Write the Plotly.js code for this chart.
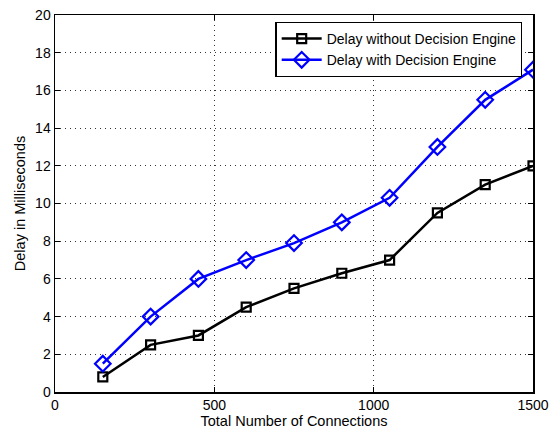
<!DOCTYPE html>
<html><head><meta charset="utf-8">
<script src="https://cdn.plot.ly/plotly-3.0.1.min.js"></script>
<style>html,body{margin:0;padding:0;background:#fff}#chart{width:551px;height:429px}</style>
</head><body><div id="chart"></div>
<script>
const connections = [150, 300, 450, 600, 750, 900, 1050, 1200, 1350, 1500];
const delayWithout = [0.8, 2.5, 3.0, 4.5, 5.5, 6.3, 7.0, 9.5, 11.0, 12.0];
const delayWith = [1.5, 4.0, 6.0, 7.0, 7.9, 9.0, 10.3, 13.0, 15.5, 17.1];
const xTicks = [0, 500, 1000, 1500];
const yTicks = [0, 2, 4, 6, 8, 10, 12, 14, 16, 18, 20];

const fam = 'Liberation Sans, Arial, sans-serif';
const traces = [
  {x: connections, y: delayWithout, name: 'Delay without Decision Engine', mode: 'lines+markers',
   line: {color: '#000000', width: 2.5},
   marker: {symbol: 'square-open', size: 9, color: '#000000', line: {width: 2.2, color: '#000000'}}},
  {x: connections, y: delayWith, name: 'Delay with Decision Engine', mode: 'lines+markers',
   line: {color: '#0000ff', width: 2.5},
   marker: {symbol: 'diamond-open', size: 12, color: '#0000ff', line: {width: 2.2, color: '#0000ff'}}}
];
const tickFont = {family: fam, size: 14, color: '#000'};
const titleFont = {family: fam, size: 14.5, color: '#000'};
const legendFont = {family: fam, size: 14, color: '#000'};
const layout = {
  width: 551, height: 429,
  margin: {l: 55, r: 18, t: 15, b: 37},
  paper_bgcolor: '#fff', plot_bgcolor: '#fff',
  font: tickFont,
  showlegend: true,
  legend: {x: 0.978, y: 0.982, xanchor: 'right', yanchor: 'top', bgcolor: '#fff',
    bordercolor: '#000', borderwidth: 1.2, font: legendFont,
    tracegroupgap: 0, itemwidth: 40},
  xaxis: {range: [0, 1500], tickvals: xTicks, ticktext: xTicks.map(String),
    ticks: 'inside', ticklen: 5, tickcolor: '#000', mirror: 'ticks', showline: true, linecolor: '#000', linewidth: 1.5,
    showgrid: true, gridcolor: '#333', griddash: '1px,4px', gridwidth: 1, zeroline: false,
    tickfont: tickFont,
    title: {text: 'Total Number of Connections', font: titleFont, standoff: 1}},
  yaxis: {range: [0, 20], tickvals: yTicks, ticktext: yTicks.map(String),
    ticks: 'inside', ticklen: 5, tickcolor: '#000', mirror: 'ticks', showline: true, linecolor: '#000', linewidth: 1.5,
    showgrid: true, gridcolor: '#333', griddash: '1px,4px', gridwidth: 1, zeroline: false,
    tickfont: tickFont,
    title: {text: 'Delay in Milliseconds', font: titleFont, standoff: 6}}
};
Plotly.newPlot('chart', traces, layout, {displayModeBar: false, staticPlot: true});
</script></body></html>
